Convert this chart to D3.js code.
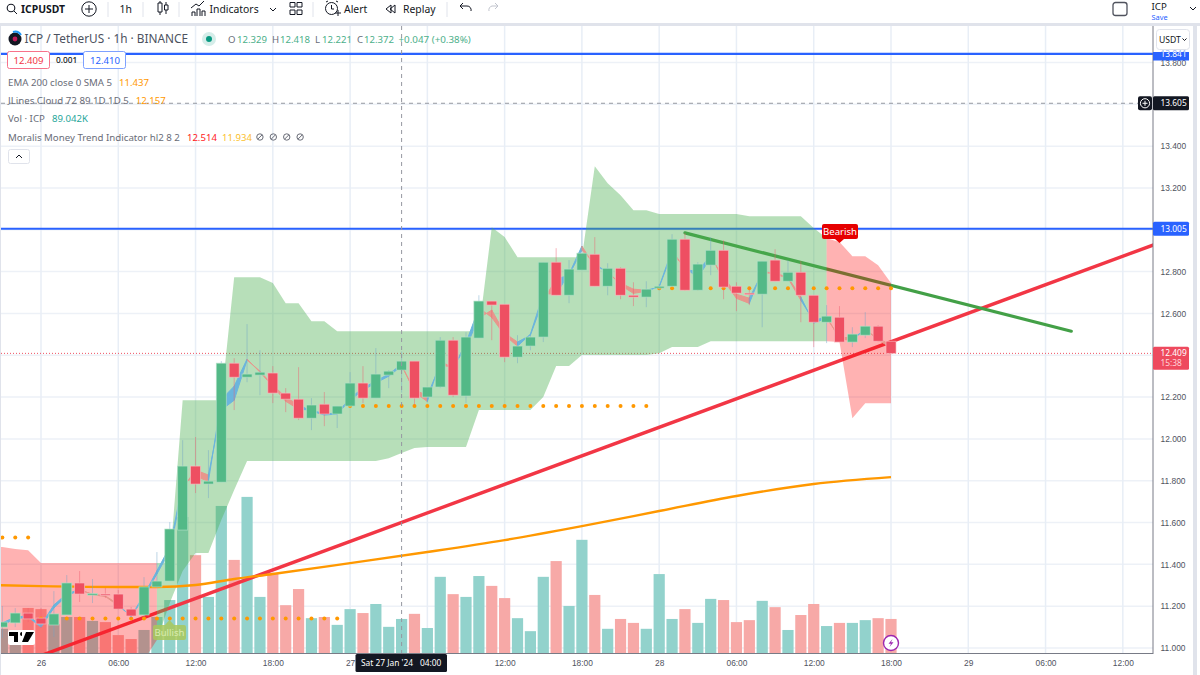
<!DOCTYPE html>
<html>
<head>
<meta charset="utf-8">
<title>ICPUSDT 1h</title>
<script src="https://cdn.jsdelivr.net/npm/d3@7"></script>
<style>
  html, body { margin: 0; padding: 0; background: #fff; }
  svg { display: block; font-family: "Noto Sans", "Open Sans", sans-serif; }
</style>
</head>
<body>
<svg id="chart" width="1200" height="675"></svg>
<script>
// Hourly bars, hour 0 = 26 Jan 00:00. The series start three hours earlier.
const firstHour = -3;
const opens = [11.100,11.120,11.167,11.143,11.110,11.158,11.311,11.255,11.258,11.258,11.186,11.158,11.292,11.320,11.564,11.870,11.784,11.793,12.362,12.295,12.305,12.315,12.219,12.190,12.099,12.166,12.119,12.157,12.267,12.195,12.305,12.329,12.372,12.200,12.248,12.472,12.205,12.482,12.659,12.644,12.391,12.444,12.487,12.845,12.687,12.807,12.883,12.730,12.816,12.687,12.678,12.721,12.730,12.955,12.711,12.831,12.902,12.730,12.697,12.692,12.855,12.754,12.797,12.687,12.558,12.582,12.463,12.496,12.539,12.467];
const highs = [11.201,11.191,11.191,11.191,11.272,11.349,11.368,11.330,11.287,11.277,11.196,11.339,11.459,11.602,11.994,12.009,11.946,12.372,12.386,12.549,12.424,12.348,12.243,12.343,12.195,12.224,12.157,12.319,12.348,12.434,12.329,12.418,12.372,12.248,12.487,12.487,12.510,12.687,12.659,12.644,12.496,12.496,12.845,12.912,12.855,13.008,12.965,12.840,12.821,12.749,12.754,12.740,12.979,12.984,12.845,12.965,12.950,12.749,12.726,12.850,12.907,12.855,12.850,12.687,12.640,12.635,12.534,12.606,12.544,12.467];
const lows = [11.048,11.100,11.124,11.096,11.053,11.158,11.220,11.215,11.239,11.182,11.143,11.148,11.287,11.320,11.564,11.741,11.717,11.793,12.138,12.271,12.209,12.171,12.128,12.090,12.042,12.061,12.052,12.152,12.171,12.195,12.243,12.221,12.162,12.176,12.243,12.200,12.171,12.482,12.472,12.367,12.362,12.424,12.463,12.687,12.649,12.807,12.730,12.687,12.668,12.635,12.630,12.711,12.730,12.711,12.711,12.783,12.668,12.611,12.640,12.534,12.754,12.754,12.558,12.439,12.458,12.463,12.439,12.482,12.463,12.405];
const closes = [11.124,11.167,11.139,11.115,11.163,11.311,11.258,11.260,11.253,11.186,11.153,11.292,11.320,11.569,11.870,11.784,11.798,12.362,12.295,12.310,12.319,12.219,12.190,12.099,12.162,12.119,12.157,12.267,12.195,12.310,12.324,12.372,12.195,12.248,12.472,12.209,12.487,12.659,12.640,12.391,12.444,12.487,12.845,12.687,12.812,12.888,12.730,12.816,12.687,12.678,12.716,12.730,12.955,12.711,12.836,12.902,12.726,12.697,12.692,12.850,12.754,12.797,12.687,12.558,12.587,12.463,12.501,12.539,12.467,12.409];
// Volume in thousands of ICP, and whether each volume bar is up (1) or down (0).
const volumes = [64,61,117,114,76,94,94,84,81,48,38,61,94,137,348,251,145,376,239,399,145,206,124,165,91,94,74,114,104,127,69,89,102,66,196,152,145,198,173,142,91,58,196,236,122,290,150,64,89,79,64,203,89,114,79,140,137,81,86,135,119,61,99,127,71,79,79,86,91,89];
const volumeUp = [1,1,0,0,1,1,0,1,0,0,0,1,1,1,1,0,1,1,0,1,1,0,0,0,1,0,1,1,0,1,1,1,0,1,1,0,1,1,0,0,1,1,1,0,1,1,0,1,0,0,1,1,1,0,1,1,0,0,0,1,0,1,0,0,1,0,1,1,0,0];

// Trend indicator cloud, one value per hour starting at hour -4.
const cloudFirstHour = -4;
const cloudUpper = [11.483,11.483,11.473,11.468,11.406,11.406,11.406,11.406,11.406,11.406,11.406,11.406,11.406,11.406,11.406,12.185,12.185,12.185,12.185,12.773,12.773,12.773,12.745,12.649,12.649,12.563,12.563,12.515,12.515,12.515,12.515,12.515,12.515,12.515,12.515,12.515,12.515,12.515,12.515,13.012,12.965,12.869,12.869,12.869,12.869,12.869,12.869,13.304,13.223,13.165,13.094,13.094,13.075,13.075,13.075,13.075,13.075,13.075,13.075,13.065,13.065,13.065,13.065,13.065,13.008,12.960,12.941,12.874,12.874,12.831,12.745];
const cloudLower = [10.943,10.943,10.943,10.943,10.943,10.943,10.943,10.943,10.943,10.943,10.943,10.943,10.943,11.038,11.215,11.368,11.454,11.454,11.612,11.755,11.894,11.894,11.894,11.894,11.894,11.894,11.894,11.894,11.894,11.894,11.894,11.908,11.932,11.956,11.961,11.961,11.961,11.961,12.138,12.138,12.138,12.138,12.138,12.200,12.348,12.348,12.401,12.401,12.401,12.401,12.401,12.401,12.410,12.439,12.439,12.439,12.467,12.467,12.467,12.467,12.467,12.467,12.467,12.467,12.467,12.467,12.463,12.099,12.171,12.171,12.171];
const cloudPhases = [[-4, 9, "bear"], [9, 61, "bull"], [61, 66, "bear"]];

// Fast ribbon that hugs the candles: centre value and signed width per hour.
const ribbonMid = [11.110,11.139,11.148,11.100,11.191,11.249,11.277,11.258,11.249,11.210,11.148,11.244,11.354,11.464,11.765,11.851,11.827,12.138,12.185,12.377,12.324,12.257,12.200,12.162,12.133,12.114,12.119,12.185,12.233,12.267,12.300,12.348,12.233,12.209,12.353,12.343,12.439,12.577,12.616,12.506,12.463,12.496,12.663,12.764,12.783,12.902,12.840,12.793,12.745,12.716,12.711,12.726,12.888,12.821,12.769,12.869,12.773,12.692,12.673,12.793,12.793,12.773,12.678,12.554,12.577,12.487,12.482,12.520,12.482,12.448];
const ribbonSpread = [.01,.01,.005,.01,.015,.01,.003,-.003,-.003,-.008,.005,.01,.015,.02,.02,-.03,-.03,.05,.067,.005,-.005,-.005,-.02,-.02,.005,.005,.005,.01,.01,.01,.01,.008,-.01,-.03,.02,-.005,.02,.05,-.035,-.01,-.02,.005,.03,-.07,.005,.02,-.015,.01,-.01,-.02,-.005,.003,.015,-.01,.03,.01,-.015,-.02,-.025,.01,-.005,-.005,-.015,.01,.01,-.01,-.01,.005,-.01,-.01];

// EMA 200 sampled at the hours it is read at.
const emaHours = [-4,0,6,9,12,15,18,24,30,36,42,48,54,60,66];
const emaValues = [11.301,11.296,11.292,11.292,11.301,11.330,11.354,11.406,11.459,11.516,11.583,11.655,11.727,11.784,11.817];

// Stepped dotted line from the cloud indicator: [first hour, last hour, level].
const dottedLevels = [[-3, -1, 11.528], [0, 23, 11.141], [24, 47, 12.157], [48, 66, 12.721]];

// Drawn trend lines and horizontal levels.
const redTrendHours = [0, 90], redTrendPrices = [10.964, 13.010];
const greenTrendHours = [50, 80], greenTrendPrices = [12.985, 12.515];
const horizontalLevels = [13.841, 13.005];
const lastPrice = 12.409;
const crosshairHour = 28, crosshairPrice = 13.605;

// Axis ticks.
const priceTicks = [13.8,13.6,13.4,13.2,13.0,12.8,12.6,12.4,12.2,12.0,11.8,11.6,11.4,11.2,11.0];
const priceTickLabels = ["13.800","","13.400","13.200","","12.800","12.600","","12.200","12.000","11.800","11.600","11.400","11.200","11.000"];
const timeTicks = [0,6,12,18,24,30,36,42,48,54,60,66,72,78,84];
const timeLabels = ["26","06:00","12:00","18:00","27","","12:00","18:00","28","06:00","12:00","18:00","29","06:00","12:00"];

const legendRows = [
  { label: "EMA 200 close 0 SMA 5", values: [["11.437", "#ff9800"]], y: 82 },
  { label: "JLines Cloud 72 89 1D 1D 5", values: [["12.157", "#ff9800"]], y: 100 },
  { label: "Vol · ICP", values: [["89.042K", "#26a69a"]], y: 118 },
  { label: "Moralis Money Trend Indicator hl2 8 2", values: [["12.514", "#ff1a1a"], ["11.934", "#fbc02d"]], y: 137 }
];

const PLOT = { left: 1, right: 1153, top: 26, bottom: 653.5 };
const INK = "#131722", GREY = "#50535e";
const AXIS_FONT = 8.4;

const svg = d3.select("#chart");
const x = d3.scaleLinear().domain([0, 66]).range([41, 891]);
const y = d3.scaleLinear().domain([11, 13.8]).range([648, 62.5]);
const yVol = d3.scaleLinear().domain([0, 400]).range([654, 496.5]);

const defs = svg.append("defs");
defs.append("clipPath").attr("id", "plot")
  .append("rect").attr("x", PLOT.left).attr("y", PLOT.top)
  .attr("width", PLOT.right - PLOT.left).attr("height", PLOT.bottom - PLOT.top);
defs.append("clipPath").attr("id", "topTag")
  .append("rect").attr("x", PLOT.right).attr("y", 52).attr("width", 37).attr("height", 9);

// Page chrome behind the chart pane.
svg.append("rect").attr("width", 1200).attr("height", 675).attr("fill", "#fff");
svg.append("rect").attr("y", 23).attr("width", 1200).attr("height", 3).attr("fill", "#e0e3eb");
svg.append("rect").attr("y", 23).attr("width", 1).attr("height", 652).attr("fill", "#e0e3eb");
svg.append("rect").attr("x", 1193).attr("y", 23).attr("width", 4).attr("height", 652).attr("fill", "#e0e3eb");

const plot = svg.append("g").attr("clip-path", "url(#plot)");

// Grid
plot.append("g").selectAll("line").data(priceTicks).join("line")
  .attr("x1", PLOT.left).attr("x2", PLOT.right).attr("y1", d => y(d)).attr("y2", d => y(d))
  .attr("stroke", "#edf1f7").attr("stroke-width", 1.5);
plot.append("g").selectAll("line").data(timeTicks).join("line")
  .attr("x1", d => x(d)).attr("x2", d => x(d)).attr("y1", PLOT.top).attr("y2", PLOT.bottom)
  .attr("stroke", "#e8eef6").attr("stroke-width", 1.5);

// Volume
plot.append("g").selectAll("rect").data(volumes).join("rect")
  .attr("x", (d, i) => x(firstHour + i) - 5.6).attr("width", 11.2)
  .attr("y", d => yVol(d)).attr("height", d => yVol(0) - yVol(d))
  .attr("fill", (d, i) => volumeUp[i] ? "#92d2cc" : "#f7a9a7");

// Price level, crosshair and last-price rules
plot.append("line").attr("x1", PLOT.left).attr("x2", PLOT.right).attr("y1", y(lastPrice)).attr("y2", y(lastPrice))
  .attr("stroke", "#ef5363").attr("stroke-width", 1).attr("stroke-dasharray", "1 2");
plot.append("line").attr("x1", PLOT.left).attr("x2", PLOT.right).attr("y1", y(crosshairPrice)).attr("y2", y(crosshairPrice))
  .attr("stroke", "#9598a1").attr("stroke-dasharray", "4 4");
plot.append("g").selectAll("line").data(horizontalLevels).join("line")
  .attr("x1", PLOT.left).attr("x2", PLOT.right).attr("y1", d => y(d)).attr("y2", d => y(d))
  .attr("stroke", "#2962ff").attr("stroke-width", 2.2);

// Trend lines sit under the cloud, so the cloud tints them
const trend = d3.line().x(d => x(d[0])).y(d => y(d[1]));
plot.append("path").attr("d", trend(d3.zip(redTrendHours, redTrendPrices)))
  .attr("fill", "none").attr("stroke", "#f23645").attr("stroke-width", 3.4);
plot.append("path").attr("d", trend(d3.zip(greenTrendHours, greenTrendPrices)))
  .attr("fill", "none").attr("stroke", "#43a047").attr("stroke-width", 3.2).attr("stroke-linecap", "round");

// Trend cloud
const cloudRows = cloudUpper.map((u, i) => ({ h: cloudFirstHour + i, u, l: cloudLower[i] }));
const cloudArea = d3.area().x(d => x(d.h)).y0(d => y(d.l)).y1(d => y(d.u));
plot.append("g").selectAll("path").data(cloudPhases).join("path")
  .attr("d", p => cloudArea(cloudRows.filter(r => r.h >= p[0] && r.h <= p[1])))
  .attr("fill", p => p[2] === "bull" ? "rgba(76,175,80,.4)" : "rgba(255,0,0,.3)");

// EMA 200
plot.append("path").attr("d", d3.line().x(d => x(d[0])).y(d => y(d[1])).curve(d3.curveMonotoneX)(d3.zip(emaHours, emaValues)))
  .attr("fill", "none").attr("stroke", "#ff9800").attr("stroke-width", 2.4);

// Dotted steps
const dots = dottedLevels.flatMap(([a, b, v]) => d3.range(a, b + 1).map(h => [h, v]));
plot.append("g").selectAll("circle").data(dots).join("circle")
  .attr("cx", d => x(d[0])).attr("cy", d => y(d[1])).attr("r", 2).attr("fill", "#ff9800");

// Fast ribbon: one polygon per hour, blue while the spread is positive
const ribbonSegs = d3.range(ribbonMid.length - 1).map(i => ({
  h: firstHour + i, a: ribbonMid[i], b: ribbonMid[i + 1], sa: ribbonSpread[i], sb: ribbonSpread[i + 1]
}));
plot.append("g").selectAll("path").data(ribbonSegs).join("path")
  .attr("d", s => d3.line()([
    [x(s.h), y(s.a)], [x(s.h + 1), y(s.b)],
    [x(s.h + 1), y(s.b + s.sb)], [x(s.h), y(s.a + s.sa)]
  ]) + "Z")
  .attr("fill", s => s.sb > 0 ? "#6bb5dd" : "#e8968c")
  .attr("stroke", s => s.sb > 0 ? "#6bb5dd" : "#e8968c").attr("stroke-width", 1);

// Candles
const bars = closes.map((c, i) => ({ h: firstHour + i, o: opens[i], h2: highs[i], l: lows[i], c, up: c >= opens[i] }));
const candles = plot.append("g");
candles.selectAll("line").data(bars).join("line")
  .attr("x1", d => x(d.h)).attr("x2", d => x(d.h)).attr("y1", d => y(d.h2)).attr("y2", d => y(d.l))
  .attr("stroke", d => d.up ? "rgba(110,165,200,.45)" : "rgba(240,90,110,.45)").attr("stroke-width", 1);
candles.selectAll("rect").data(bars).join("rect")
  .attr("x", d => x(d.h) - 5).attr("width", 10)
  .attr("y", d => y(Math.max(d.o, d.c)))
  .attr("height", d => Math.max(1.5, Math.abs(y(d.o) - y(d.c))))
  .attr("fill", d => d.up ? "#53b987" : "#ee4f62")
  .attr("stroke", d => d.up ? "rgba(180,225,200,.8)" : "rgba(250,190,195,.8)").attr("stroke-width", .8);

// Vertical crosshair
svg.append("line").attr("x1", x(crosshairHour)).attr("x2", x(crosshairHour))
  .attr("y1", PLOT.top).attr("y2", PLOT.bottom)
  .attr("stroke", "#9598a1").attr("stroke-dasharray", "4 4");

// Signal labels
const bullish = svg.append("g");
bullish.append("path").attr("d", d3.line()([[165, 625], [169.5, 620], [174, 625]])).attr("fill", "#a9c85a").attr("fill-opacity", .85);
bullish.append("rect").attr("x", 153).attr("y", 625).attr("width", 33).attr("height", 15).attr("rx", 2)
  .attr("fill", "#a9c85a").attr("fill-opacity", .85);
bullish.append("text").attr("x", 169.5).attr("y", 636).attr("text-anchor", "middle")
  .attr("font-size", 9.6).attr("fill", "#d9ecb0").text("Bullish");

const bearish = svg.append("g");
bearish.append("path").attr("d", d3.line()([[835, 239], [839.5, 243], [844, 239]])).attr("fill", "#e60000");
bearish.append("rect").attr("x", 822).attr("y", 224).attr("width", 36).attr("height", 15).attr("rx", 2).attr("fill", "#e60000");
bearish.append("text").attr("x", 840).attr("y", 235).attr("text-anchor", "middle")
  .attr("font-size", 9.6).attr("fill", "#fff").text("Bearish");

// Lightning badge and exchange logo
const bolt = svg.append("g").attr("transform", "translate(891,643)");
bolt.append("circle").attr("r", 7.5).attr("fill", "#fff").attr("stroke", "#9c27b0").attr("stroke-width", 1.4);
bolt.append("path").attr("d", "M1.5,-4 L-2.5,0.8 L0,0.8 L-1.5,4 L2.5,-0.8 L0,-0.8 Z").attr("fill", "#9c27b0");
const logo = svg.append("g").attr("transform", "translate(9,631)");
logo.append("rect").attr("x", -1).attr("y", -1).attr("width", 27).attr("height", 15).attr("rx", 2).attr("fill", "#fff");
logo.append("path").attr("d", "M0,1 H9 V11 H5 V5 H0 Z M13,1 a2,2 0 1,0 0.01,4 Z M17,1 H25 L19,11 H13 Z").attr("fill", "#000");

// Axis rules
svg.append("line").attr("x1", PLOT.right).attr("x2", PLOT.right).attr("y1", PLOT.top).attr("y2", 654).attr("stroke", "#787b86");
svg.append("line").attr("x1", PLOT.left).attr("x2", PLOT.right).attr("y1", 653.5).attr("y2", 653.5).attr("stroke", "#787b86");

// Price axis
const priceAxis = d3.axisRight(y).tickValues(priceTicks).tickSize(0).tickPadding(0)
  .tickFormat((d, i) => priceTickLabels[i]);
const priceG = svg.append("g").attr("transform", `translate(${PLOT.right + 7.5},0)`).call(priceAxis);
priceG.select(".domain").remove();
priceG.selectAll("text").attr("font-size", AXIS_FONT).attr("font-family", "inherit").attr("fill", GREY);

// Time axis
const timeAxis = d3.axisBottom(x).tickValues(timeTicks).tickSize(0).tickPadding(0)
  .tickFormat((d, i) => timeLabels[i]);
const timeG = svg.append("g").attr("transform", "translate(0,660.5)").call(timeAxis);
timeG.select(".domain").remove();
timeG.selectAll("text").attr("font-size", AXIS_FONT).attr("font-family", "inherit").attr("fill", GREY);

// Price tags on the axis
function priceTag(value, fill, h, sub) {
  const cy = y(value);
  const g = svg.append("g");
  g.append("rect").attr("x", PLOT.right).attr("y", sub ? cy - 6.5 : cy - h / 2).attr("width", 36).attr("height", h)
    .attr("rx", 1.5).attr("fill", fill);
  g.append("text").attr("x", PLOT.right + 7.5).attr("y", cy + 3).attr("font-size", AXIS_FONT).attr("fill", "#fff").text(d3.format(".3f")(value));
  if (sub) g.append("text").attr("x", PLOT.right + 7.5).attr("y", cy + 12.8).attr("font-size", AXIS_FONT).attr("fill", "#ffd5da").text(sub);
}
priceTag(crosshairPrice, INK, 14);
priceTag(13.005, "#2962ff", 14);
priceTag(lastPrice, "#ee4a5e", 23, "15:38");

// The upper level tag slides under the currency button; only its lower part shows
const topCy = y(13.841);
svg.append("text").attr("x", PLOT.right + 7.5).attr("y", topCy + 3).attr("font-size", AXIS_FONT).attr("fill", "#9db4f5").text("13.841");
const topTag = svg.append("g").attr("clip-path", "url(#topTag)");
topTag.append("rect").attr("x", PLOT.right).attr("y", 52).attr("width", 36).attr("height", 8.5).attr("fill", "#2962ff");
topTag.append("text").attr("x", PLOT.right + 7.5).attr("y", topCy + 3).attr("font-size", AXIS_FONT).attr("fill", "#fff").text("13.841");

// Add-alert button beside the crosshair tag
const plus = svg.append("g").attr("transform", `translate(1145,${y(crosshairPrice)})`);
plus.append("rect").attr("x", -7).attr("y", -7).attr("width", 14).attr("height", 14).attr("rx", 2).attr("fill", INK);
plus.append("circle").attr("r", 4.6).attr("fill", "none").attr("stroke", "#fff");
plus.append("path").attr("d", "M-2.5,0H2.5M0,-2.5V2.5").attr("stroke", "#fff");

// Currency button
svg.append("rect").attr("x", 1156.5).attr("y", 29.5).attr("width", 33).attr("height", 20).attr("rx", 3)
  .attr("fill", "#fff").attr("stroke", "#e0e3eb");
svg.append("text").attr("x", 1159).attr("y", 42.5).attr("font-size", 8.6).attr("fill", INK).text("USDT");
svg.append("path").attr("d", "M1182.5,38.5 l2,2 l2,-2").attr("fill", "none").attr("stroke", INK);

// Crosshair time label
svg.append("rect").attr("x", 355.5).attr("y", 654).attr("width", 91.5).attr("height", 18).attr("rx", 1.5).attr("fill", INK);
svg.append("text").attr("x", 361).attr("y", 666).attr("font-size", AXIS_FONT).attr("fill", "#fff").text("Sat 27 Jan '24");
svg.append("text").attr("x", 420).attr("y", 666).attr("font-size", AXIS_FONT).attr("fill", "#fff").text("04:00");

// Symbol legend
const txt = (px, py, s, size, fill, weight) => svg.append("text").attr("x", px).attr("y", py)
  .attr("font-size", size).attr("fill", fill).attr("font-weight", weight || 400).text(s);

svg.append("circle").attr("cx", 15).attr("cy", 39).attr("r", 6.5).attr("fill", "#131722");
svg.append("circle").attr("cx", 15).attr("cy", 39).attr("r", 2.4).attr("fill", "#c2185b");
svg.append("path").attr("d", "M13,32 a7,7 0 0 1 8,3").attr("fill", "none").attr("stroke", "#2196f3").attr("stroke-width", 2);
txt(24.5, 43.2, "ICP / TetherUS · 1h · BINANCE", 11.8, "#4c525e");
svg.append("circle").attr("cx", 209).attr("cy", 39).attr("r", 7).attr("fill", "#d5ede9");
svg.append("circle").attr("cx", 209).attr("cy", 39).attr("r", 3).attr("fill", "#089981");

const ohlc = [["O", 228, "12.329", 237], ["H", 272, "12.418", 280], ["L", 315, "12.221", 322], ["C", 357, "12.372", 364]];
ohlc.forEach(([k, kx, v, vx]) => {
  txt(kx, 42.5, k, 9.6, "#6a6d78");
  txt(vx, 42.5, v, 9.6, "#4caf8a");
});
txt(398.5, 42.5, "+0.047 (+0.38%)", 9.8, "#4caf8a");

// Bid / ask chips
svg.append("rect").attr("x", 7.5).attr("y", 51.5).attr("width", 42).attr("height", 17).attr("rx", 2).attr("fill", "#fff").attr("stroke", "#f7728a");
txt(13.5, 63.5, "12.409", 9.6, "#f23645");
txt(56, 63, "0.001", 8.3, INK, 500);
svg.append("rect").attr("x", 83.5).attr("y", 51.5).attr("width", 42).attr("height", 17).attr("rx", 2).attr("fill", "#fff").attr("stroke", "#7ea1ff");
txt(90, 63.5, "12.410", 9.6, "#2962ff");

// Indicator rows
legendRows.forEach(r => {
  const label = txt(8, r.y + 3.5, r.label, 9.7, "#6a6d78");
  let cx = 8 + label.node().getComputedTextLength() + 7;
  r.values.forEach(([v, c]) => {
    const t = txt(cx, r.y + 3.5, v, 9.6, c);
    cx += t.node().getComputedTextLength() + 5;
  });
  if (r.values.length === 2) {
    d3.range(4).forEach(i => {
      const g = svg.append("g").attr("transform", `translate(${cx + 3 + i * 13.4},${r.y})`);
      g.append("circle").attr("r", 3.2).attr("fill", "none").attr("stroke", "#6a6d78");
      g.append("path").attr("d", "M-2,2 L2,-2").attr("stroke", "#6a6d78");
    });
  }
});
svg.append("rect").attr("x", 8.5).attr("y", 149.5).attr("width", 21).attr("height", 14).attr("rx", 2).attr("fill", "#fff").attr("stroke", "#e0e3eb");
svg.append("path").attr("d", "M16,158 l3,-3 l3,3").attr("fill", "none").attr("stroke", INK);

// Top toolbar
const icon = (d, col, w) => svg.append("path").attr("d", d).attr("fill", "none").attr("stroke", col || INK).attr("stroke-width", w || 1);
svg.append("circle").attr("cx", 11).attr("cy", 8).attr("r", 3.8).attr("fill", "none").attr("stroke", INK).attr("stroke-width", 1.1);
icon("M14,11 L17,14");
txt(21, 13, "ICPUSDT", 10.4, INK, 700);
svg.append("circle").attr("cx", 89).attr("cy", 9).attr("r", 7.2).attr("fill", "none").attr("stroke", INK);
icon("M85,9 H93 M89,5 V13");
txt(119.5, 13, "1h", 10.4, INK);
icon("M158,3 H162 V12 H158 Z M160,1 V3 M160,12 V15 M164.5,5 H168 V10 H164.5 Z M166,2 V5 M166,10 V14");
icon("M192,16 V12 H195 V16 M197,16 V9 H200 V16 M202,16 V11 H205 V16 M191,8 L196,4 L199,6 L204,1");
txt(209.5, 13, "Indicators", 10.4, INK);
icon("M270,8 L273,11 L276,8");
icon("M290,2.5 H295 V7 H290 Z M297,2.5 H302 V7 H297 Z M290,10 H295 V14.5 H290 Z M297,10 H302 V14.5 H297 Z");
svg.append("circle").attr("cx", 331.5).attr("cy", 8.5).attr("r", 6).attr("fill", "none").attr("stroke", INK);
icon("M331.5,5 V9 H334 M335,13 H341 M338,10 V16 M326,2 L328,1 M336,1 L338,2");
txt(344, 13, "Alert", 10.4, INK);
icon("M391,5 L386,9 L391,13 Z M395,5 L390,9 L395,13 Z");
txt(403, 13, "Replay", 10.4, INK);
icon("M460,6 L463,3 M460,6 L463,9 M460,6 H467 a4,4 0 0 1 4,5");
icon("M498,6 L495,3 M498,6 L495,9 M498,6 H492 a4,4 0 0 0 -3,5", "#c1c4cd");
[108, 143, 179, 313, 447].forEach(px => svg.append("line").attr("x1", px).attr("x2", px).attr("y1", 2).attr("y2", 17).attr("stroke", "#e0e3eb"));
svg.append("rect").attr("x", 1113).attr("y", 2.5).attr("width", 14).attr("height", 13).attr("rx", 2.5).attr("fill", "none").attr("stroke", "#50535e").attr("stroke-width", 1.3);
txt(1151.5, 10, "ICP", 9.7, INK);
txt(1151.5, 19.6, "Save", 7.4, "#2962ff");
icon("M1190,7 L1193,10 L1196,7");
</script>
</body>
</html>
